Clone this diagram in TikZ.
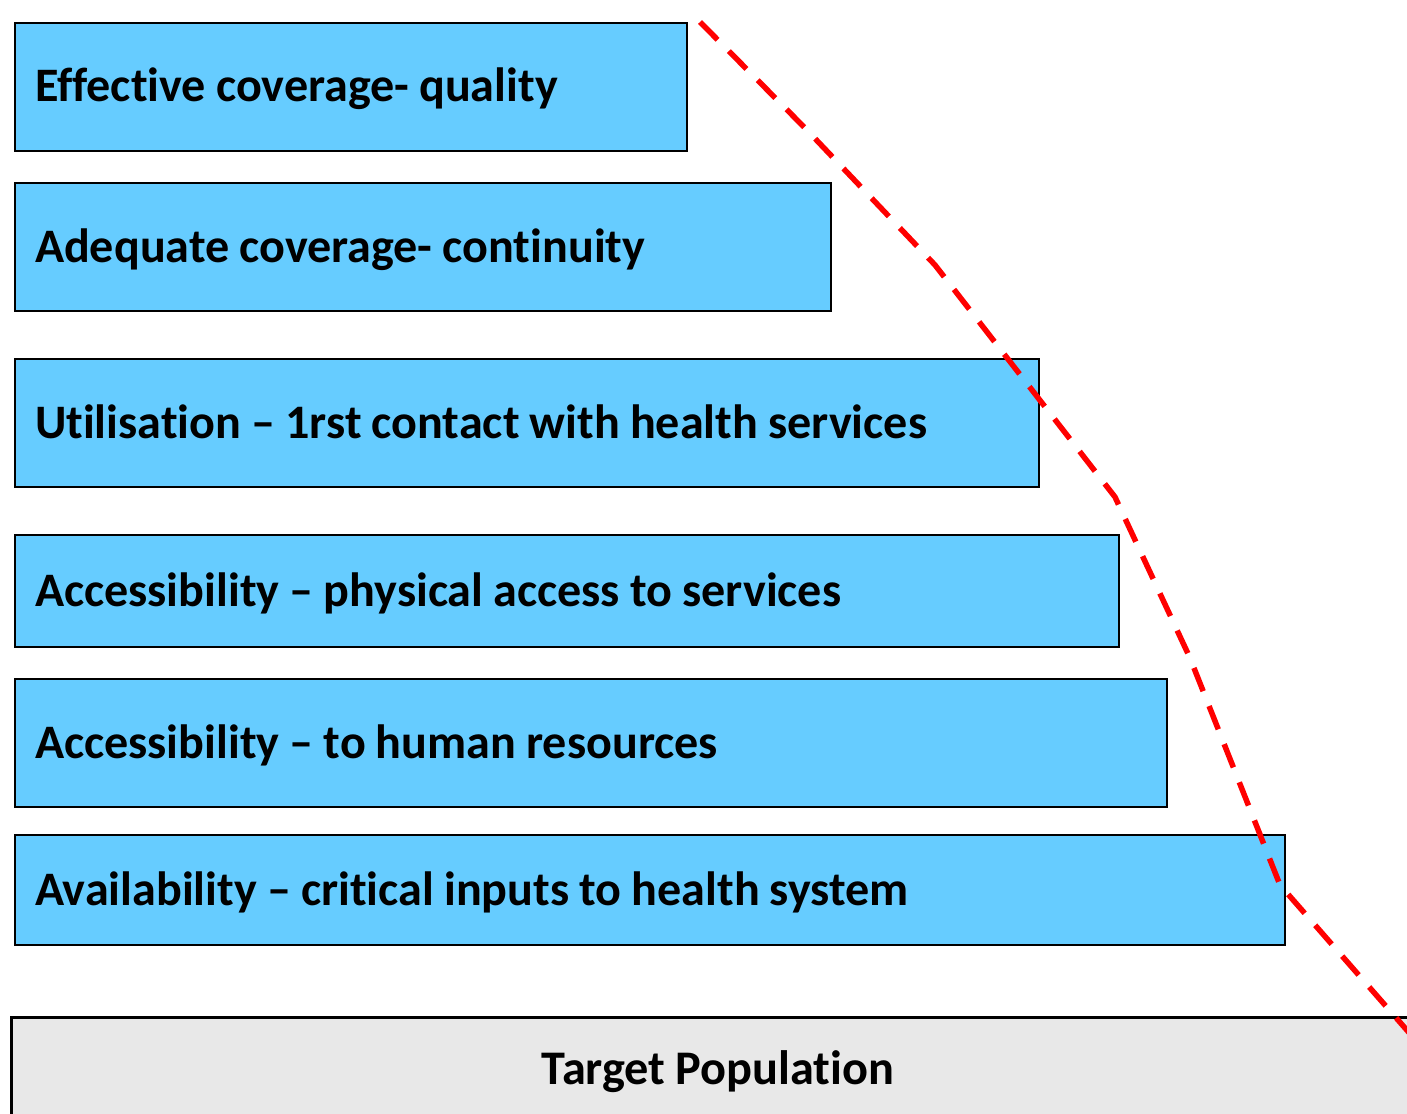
\documentclass[tikz,border=0pt]{standalone}
\usepackage{fontspec}
\setmainfont{Carlito}[RawFeature=-liga]
\definecolor{boxblue}{HTML}{66CCFF}
\definecolor{popgray}{HTML}{E8E8E8}
\definecolor{linered}{HTML}{FF0000}
\newcommand{\lvlfont}{\fontsize{48.1}{54}\selectfont\bfseries\spaceskip=0.21em\relax}
\newcommand{\popfont}{\fontsize{48.3}{54}\selectfont\bfseries\spaceskip=0.21em\relax}
\newcommand{\lvltext}[2]{\makebox[#1][l]{#2}}
\begin{document}
\begin{tikzpicture}[x=1pt,y=-1pt,
  lvl/.style={draw=black, fill=boxblue, line width=2pt, anchor=north west,
    inner xsep=20pt, inner ysep=0pt, minimum height=#1,
    text height=36pt, text depth=6pt, font=\lvlfont},
  pop/.style={draw=black, fill=popgray, line width=2.5pt, anchor=north west,
    inner sep=0pt},
  frontier/.style={draw=linered, line width=5.5pt, dash pattern=on 25pt off 16pt}]
\useasboundingbox (0,0) rectangle (1407,1113);
\clip (0,0) rectangle (1407,1113);
\node[lvl=128pt] (q) at (14,22) {\lvltext{632pt}{Effective coverage- quality}};
\node[lvl=128pt] (c) at (14,182) {\lvltext{776pt}{Adequate coverage- continuity}};
\node[lvl=128pt] (u) at (14,358) {\lvltext{984pt}{Utilisation -- 1rst contact with health services}};
\node[lvl=112pt] (ap) at (14,534) {\lvltext{1064pt}{Accessibility -- physical access to services}};
\node[lvl=128pt] (ah) at (14,678) {\lvltext{1112pt}{Accessibility -- to human resources}};
\node[lvl=110pt] (av) at (14,834) {\lvltext{1230pt}{Availability -- critical inputs to health system}};
\node[pop, minimum width=1420pt, minimum height=120pt] (tp) at (10,1016) {};
\node[font=\popfont, anchor=center] (tpl) at (718,1072) {Target Population};
\coordinate (f0) at (700,22);
\coordinate (f1) at (805,128);
\coordinate (f2) at (935,265);
\coordinate (f3) at (1115,497);
\coordinate (f4) at (1190,658);
\coordinate (f5) at (1280,885);
\coordinate (f6) at (1412,1036);
\draw[frontier] (f0) -- (f1) -- (f2) -- (f3) -- (f4) -- (f5) -- (f6);
\end{tikzpicture}
\end{document}
